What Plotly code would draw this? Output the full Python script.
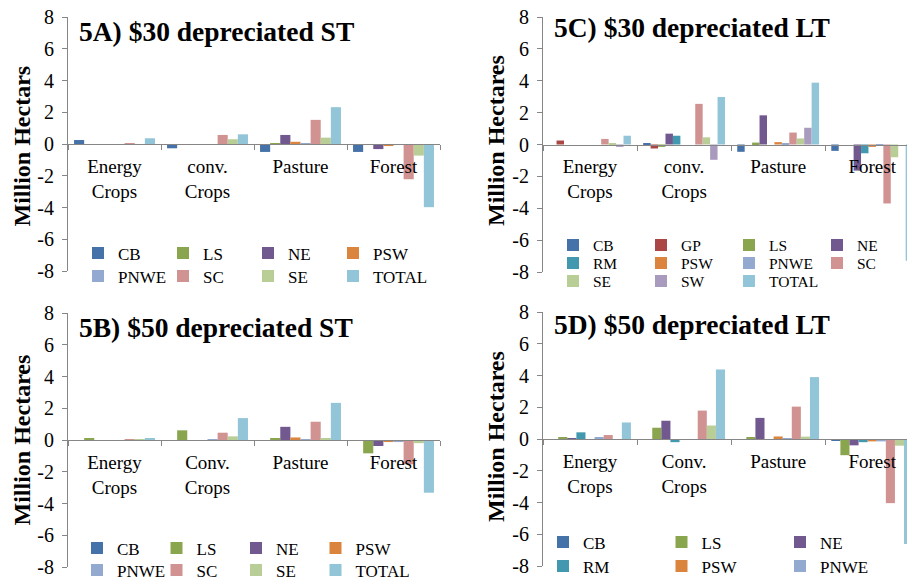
import plotly.graph_objects as go

FONT = "Liberation Serif, Times New Roman, serif"
W, H = 907, 583

# ---------------- data ----------------
cats_A = ["Energy<br>Crops", "conv.<br>Crops", "Pasture", "Forest"]
cats_B = ["Energy<br>Crops", "Conv.<br>Crops", "Pasture", "Forest"]
cats_C = ["Energy<br>Crops", "conv.<br>Crops", "Pasture", "Forest"]
cats_D = ["Energy<br>Crops", "Conv.<br>Crops", "Pasture", "Forest"]

regions_A = ["CB", "LS", "NE", "PSW", "PNWE", "SC", "SE", "TOTAL"]
vals_A = [
    [0.25, -0.27, -0.50, -0.50],   # CB
    [0.00, 0.00, 0.06, -0.05],     # LS
    [0.00, 0.00, 0.57, -0.32],     # NE
    [0.00, 0.00, 0.14, -0.13],     # PSW
    [0.00, 0.00, 0.04, -0.02],     # PNWE
    [0.06, 0.57, 1.52, -2.22],     # SC
    [0.00, 0.30, 0.40, -0.73],     # SE
    [0.36, 0.61, 2.32, -3.98],     # TOTAL
]

regions_B = ["CB", "LS", "NE", "PSW", "PNWE", "SC", "SE", "TOTAL"]
vals_B = [
    [0.00, 0.00, -0.05, -0.03],    # CB
    [0.08, 0.61, 0.07, -0.84],     # LS
    [-0.04, 0.00, 0.83, -0.38],    # NE
    [0.00, 0.00, 0.16, -0.13],     # PSW
    [0.00, 0.03, 0.02, -0.13],     # PNWE
    [0.03, 0.46, 1.15, -1.53],     # SC
    [0.02, 0.23, 0.10, -0.20],     # SE
    [0.08, 1.38, 2.34, -3.32],     # TOTAL
]

regions_C = ["CB", "GP", "LS", "NE", "RM", "PSW", "PNWE", "SC", "SE", "SW", "TOTAL"]
vals_C = [
    [0.00, 0.07, -0.46, -0.40],    # CB
    [0.25, -0.25, 0.00, 0.00],     # GP
    [0.00, -0.15, 0.12, 0.00],     # LS
    [0.00, 0.68, 1.83, -1.64],     # NE
    [0.00, 0.55, 0.00, -0.55],     # RM
    [0.00, 0.00, 0.15, -0.15],     # PSW
    [0.00, 0.00, 0.05, -0.05],     # PNWE
    [0.35, 2.55, 0.75, -3.70],     # SC
    [0.05, 0.45, 0.38, -0.80],     # SE
    [-0.15, -0.96, 1.05, 0.00],    # SW
    [0.55, 2.98, 3.88, -7.30],     # TOTAL
]

regions_D = ["CB", "LS", "NE", "RM", "PSW", "PNWE", "SC", "SE", "TOTAL"]
vals_D = [
    [0.00, 0.00, -0.05, -0.12],    # CB
    [0.08, 0.71, 0.10, -1.02],     # LS
    [0.05, 1.15, 1.33, -0.40],     # NE
    [0.42, -0.20, 0.00, -0.20],    # RM
    [0.00, 0.00, 0.16, -0.15],     # PSW
    [0.08, 0.00, 0.03, -0.15],     # PNWE
    [0.25, 1.79, 2.04, -4.04],     # SC
    [0.00, 0.85, 0.15, -0.42],     # SE
    [1.04, 4.38, 3.90, -6.62],     # TOTAL
]

y_ticks = [-8, -6, -4, -2, 0, 2, 4, 6, 8]
y_ticktext = ["-8", "-6", "-4", "-2", "0", "2", "4", "6", "8"]

titles = ["5A) $30 depreciated ST", "5B) $50 depreciated ST",
          "5C) $30 depreciated LT", "5D) $50 depreciated LT"]
ytitles = ["Million Hectars", "Million Hectares", "Million Hectares", "Million Hectares"]

# ---------------- style ----------------
COLORS = {
    "CB": "#4672AA", "GP": "#AA4643", "LS": "#89A54E", "NE": "#71588F",
    "RM": "#4198AF", "PSW": "#DB843D", "PNWE": "#93A9CF", "SC": "#D19392",
    "SE": "#B9CD96", "SW": "#A99BBD", "TOTAL": "#92C5D8",
}
AXC = "#868686"

def px_x(p):
    return p / W

def px_y(p):
    return 1 - p / H

panels = [
    dict(ax="", cats=cats_A, regions=regions_A, vals=vals_A, xl=68, xr=440, yt=17, yb=271, xend=3.5,
         legend_rows=[["CB", "LS", "NE", "PSW"], ["PNWE", "SC", "SE", "TOTAL"]],
         leg_text_x=118, leg_pitch=85, leg_rows_y=[253, 276], leg_font=17),
    dict(ax="2", cats=cats_B, regions=regions_B, vals=vals_B, xl=68, xr=440, yt=313, yb=567, xend=3.5,
         legend_rows=[["CB", "LS", "NE", "PSW"], ["PNWE", "SC", "SE", "TOTAL"]],
         leg_text_x=117, leg_pitch=79.5, leg_rows_y=[548, 570], leg_font=17),
    dict(ax="3", cats=cats_C, regions=regions_C, vals=vals_C, xl=543, xr=907, yt=17, yb=272, xend=3.37,
         legend_rows=[["CB", "GP", "LS", "NE"], ["RM", "PSW", "PNWE", "SC"], ["SE", "SW", "TOTAL"]],
         leg_text_x=593, leg_pitch=88, leg_rows_y=[246, 264, 282], leg_font=15.5),
    dict(ax="4", cats=cats_D, regions=regions_D, vals=vals_D, xl=543, xr=907, yt=312, yb=566, xend=3.37,
         legend_rows=[["CB", "LS", "NE"], ["RM", "PSW", "PNWE"]],
         leg_text_x=583, leg_pitch=118.5, leg_rows_y=[542, 566], leg_font=17),
]
title_pos = [(77, 31), (77, 327), (552, 28), (552, 325)]
ytitle_pos = [(21.5, 146), (21.5, 440), (496, 141), (496, 437)]

fig = go.Figure()
layout = dict(
    width=W, height=H, margin=dict(l=0, r=0, t=0, b=0, autoexpand=False),
    paper_bgcolor="white", plot_bgcolor="white",
    barmode="group", bargap=0.13, bargroupgap=0,
    font=dict(family=FONT, color="black"),
    showlegend=True,
)
annotations = []
legend_count = 0

for pi, p in enumerate(panels):
    xa = "x" + p["ax"]
    ya = "y" + p["ax"]
    leg_of = {}
    last_in_row = set()
    for ri, row in enumerate(p["legend_rows"]):
        legend_count += 1
        lname = "legend" if legend_count == 1 else "legend%d" % legend_count
        for r in row:
            leg_of[r] = lname
        last_in_row.add(row[-1])
        layout[lname] = dict(
            orientation="h", xanchor="left", yanchor="top",
            x=px_x(p["leg_text_x"] - 40), y=px_y(p["leg_rows_y"][ri] - 17.5),
            bgcolor="rgba(0,0,0,0)", borderwidth=0,
            entrywidth=p["leg_pitch"] - 45, entrywidthmode="pixels",
            itemwidth=30, font=dict(family=FONT, size=p["leg_font"], color="black"),
            itemclick=False, itemdoubleclick=False,
        )
    for reg, v in zip(p["regions"], p["vals"]):
        kw = {}
        if reg in last_in_row:
            kw["legendwidth"] = 75
        fig.add_trace(go.Bar(
            x=p["cats"], y=v, name=reg, xaxis=xa, yaxis=ya,
            marker=dict(color=COLORS[reg], line=dict(width=0)),
            legend=leg_of.get(reg, "legend"),
            showlegend=reg in leg_of, **kw,
        ))
    y0, y1 = px_y(p["yb"]), px_y(p["yt"])
    layout["xaxis" + p["ax"]] = dict(
        domain=[px_x(p["xl"]), px_x(p["xr"])], anchor="free", position=(y0 + y1) / 2,
        type="category", range=[-0.5, p["xend"]], automargin=False,
        showline=True, linecolor=AXC, linewidth=1,
        ticks="outside", ticklen=5, tickcolor=AXC, tickson="boundaries",
        tickfont=dict(family=FONT, size=19, color="black"),
        ticklabelstandoff=5,
        showgrid=False, zeroline=False, fixedrange=True,
    )
    layout["yaxis" + p["ax"]] = dict(
        domain=[y0, y1], anchor=xa, range=[-8, 8], automargin=False,
        tickvals=y_ticks, ticktext=y_ticktext,
        showline=True, linecolor=AXC, linewidth=1,
        ticks="outside", ticklen=5, tickcolor=AXC,
        tickfont=dict(family=FONT, size=20, color="black"),
        ticklabelstandoff=4,
        showgrid=False, zeroline=False, fixedrange=True,
    )
    tx, ty = title_pos[pi]
    annotations.append(dict(
        text="<b>%s</b>" % titles[pi], xref="paper", yref="paper",
        x=px_x(tx), y=px_y(ty), xanchor="left", yanchor="middle", showarrow=False,
        font=dict(family=FONT, size=27.5, color="black"),
    ))
    yx, yy = ytitle_pos[pi]
    annotations.append(dict(
        text="<b>%s</b>" % ytitles[pi], xref="paper", yref="paper",
        x=px_x(yx), y=px_y(yy), xanchor="center", yanchor="middle", showarrow=False,
        textangle=-90, font=dict(family=FONT, size=24, color="black"),
    ))

layout["annotations"] = annotations
fig.update_layout(**layout)
fig.write_html("out.html")
